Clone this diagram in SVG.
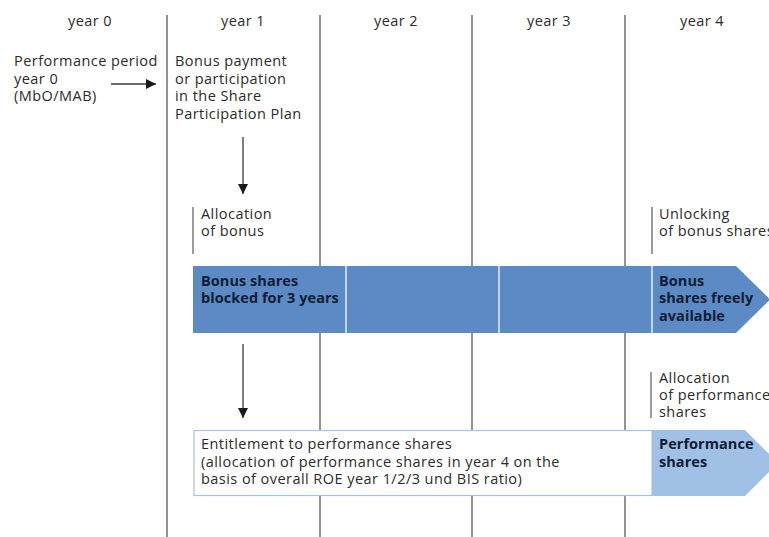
<svg xmlns="http://www.w3.org/2000/svg" width="769" height="537" viewBox="0 0 769 537">
<defs>
<style>
text{font-family:"Open Sans","Liberation Sans",sans-serif;font-size:14.5px;letter-spacing:0.45px;fill:#2b2b2b}
.yr{text-anchor:middle}
.b{font-weight:bold;fill:#0f1c33;letter-spacing:0.05px}
.grid{stroke:#5a5a5a;stroke-width:1.3}
.conn{stroke:#3a3a3a;stroke-width:1.3;fill:none}
.bar{stroke:#5a5a5a;stroke-width:1.2}
</style>
<marker id="ah" viewBox="0 0 10 10" refX="10" refY="5" markerWidth="10" markerHeight="10" markerUnits="userSpaceOnUse" orient="auto">
<path d="M0,0 L10,5 L0,10 Z" fill="#1a1a1a"/>
</marker>
</defs>
<rect width="769" height="537" fill="#fff"/>
<g id="grid">
<line class="grid" x1="167" y1="15" x2="167" y2="537"/>
<line class="grid" x1="320" y1="15" x2="320" y2="537"/>
<line class="grid" x1="472" y1="15" x2="472" y2="537"/>
<line class="grid" x1="625" y1="15" x2="625" y2="537"/>
</g>
<g id="years">
<text class="yr" x="90" y="26">year 0</text>
<text class="yr" x="243" y="26">year 1</text>
<text class="yr" x="396" y="26">year 2</text>
<text class="yr" x="549" y="26">year 3</text>
<text class="yr" x="702" y="26">year 4</text>
</g>
<g id="perf-period">
<text x="14" y="66">Performance period</text>
<text x="14" y="84">year 0</text>
<text x="14" y="101">(MbO/MAB)</text>
</g>
<g id="bonus-payment">
<text x="175" y="66">Bonus payment</text>
<text x="175" y="84">or participation</text>
<text x="175" y="101">in the Share</text>
<text x="175" y="119">Participation Plan</text>
</g>
<g id="alloc-bonus">
<line class="bar" x1="193" y1="207" x2="193" y2="254"/>
<text x="201" y="219">Allocation</text>
<text x="201" y="236">of bonus</text>
</g>
<g id="unlocking">
<line class="bar" x1="652" y1="207" x2="652" y2="254"/>
<text x="659" y="219">Unlocking</text>
<text x="659" y="236">of bonus shares</text>
</g>
<g id="alloc-perf">
<line class="bar" x1="651" y1="372" x2="651" y2="418"/>
<text x="659" y="383">Allocation</text>
<text x="659" y="400">of performance</text>
<text x="659" y="417">shares</text>
</g>
<g id="bonus-band">
<path d="M193,266 H736 L770,299.5 L736,333 H193 Z" fill="#5b8ac5"/>
<line x1="346" y1="266" x2="346" y2="333" stroke="#e6eef8" stroke-width="1.5"/>
<line x1="499" y1="266" x2="499" y2="333" stroke="#e6eef8" stroke-width="1.5"/>
<line x1="652" y1="266" x2="652" y2="333" stroke="#e6eef8" stroke-width="1.5"/>
<text class="b" x="201" y="286">Bonus shares</text>
<text class="b" x="201" y="303">blocked for 3 years</text>
<text class="b" x="659" y="286">Bonus</text>
<text class="b" x="659" y="303">shares freely</text>
<text class="b" x="659" y="321">available</text>
</g>
<g id="perf-band">
<rect x="194" y="430.5" width="458" height="65" fill="#fff" stroke="#a3c3e8" stroke-width="1.2"/>
<path d="M652,430 H745 L778,463 L745,496 H652 Z" fill="#a0c0e5"/>
<text x="201" y="449">Entitlement to performance shares</text>
<text x="201" y="467">(allocation of performance shares in year 4 on the</text>
<text x="201" y="484">basis of overall ROE year 1/2/3 und BIS ratio)</text>
<text class="b" x="659" y="449">Performance</text>
<text class="b" x="659" y="467">shares</text>
</g>
<g id="connectors">
<line class="conn" x1="111" y1="84" x2="156" y2="84" marker-end="url(#ah)"/>
<line class="conn" x1="243" y1="137" x2="243" y2="194" marker-end="url(#ah)"/>
<line class="conn" x1="243" y1="344" x2="243" y2="418" marker-end="url(#ah)"/>
</g>
</svg>
